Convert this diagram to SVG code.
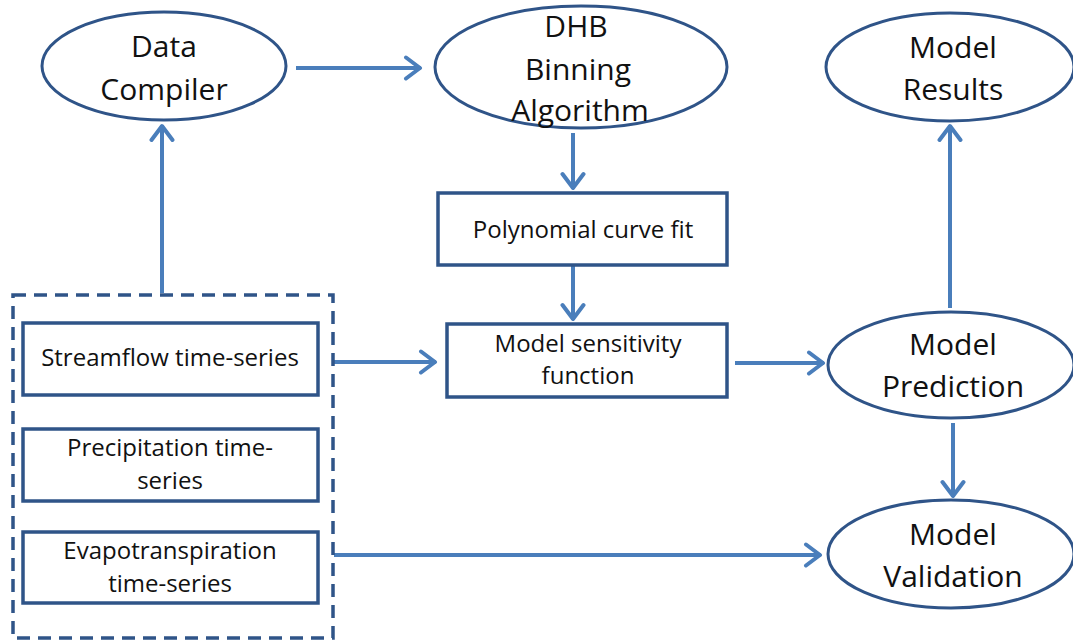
<svg xmlns="http://www.w3.org/2000/svg" width="1073" height="641" viewBox="0 0 1073 641">
<defs>
<style>
.ell{fill:#fff;stroke:#2f5488;stroke-width:3}
.box{fill:#fff;stroke:#2f5488;stroke-width:3.5}
.dash{fill:none;stroke:#2f5488;stroke-width:3.5;stroke-dasharray:13 8}
.con{fill:none;stroke:#4a7ebb;stroke-width:4;marker-end:url(#ah)}
.big{font-family:"Open Sans","Liberation Sans",sans-serif;font-size:30px;fill:#111;text-anchor:middle}
.sm{font-family:"Open Sans","Liberation Sans",sans-serif;font-size:24px;fill:#111;text-anchor:middle}
</style>
<marker id="ah" markerUnits="userSpaceOnUse" viewBox="0 0 20 26" refX="18" refY="13" markerWidth="20" markerHeight="26" orient="auto">
<path d="M3,2.5 L17,13 L3,23.5" fill="none" stroke="#4a7ebb" stroke-width="4" stroke-linecap="round" stroke-linejoin="round"/>
</marker>
</defs>
<rect width="1073" height="641" fill="#fff"/>
<g id="connectors">
<line class="con" x1="296" y1="68" x2="421" y2="68"/>
<line class="con" x1="162" y1="293" x2="162" y2="125"/>
<line class="con" x1="573" y1="133" x2="573" y2="189"/>
<line class="con" x1="573" y1="266" x2="573" y2="320"/>
<line class="con" x1="334" y1="362" x2="436" y2="362"/>
<line class="con" x1="735" y1="363" x2="824" y2="363"/>
<line class="con" x1="950" y1="308" x2="950" y2="125"/>
<line class="con" x1="953" y1="423" x2="953" y2="497"/>
<line class="con" x1="334" y1="555" x2="821" y2="555"/>
</g>
<g id="input-group">
<rect class="dash" x="13" y="295" width="320" height="343"/>
</g>
<g id="data-compiler">
<ellipse class="ell" cx="164" cy="66" rx="122" ry="54"/>
<text class="big" x="164" y="57">Data</text>
<text class="big" x="164" y="100">Compiler</text>
</g>
<g id="dhb">
<ellipse class="ell" cx="581" cy="67" rx="146" ry="61"/>
<text class="big" x="576" y="37">DHB</text>
<text class="big" x="578" y="80">Binning</text>
<text class="big" x="580" y="121">Algorithm</text>
</g>
<g id="model-results">
<ellipse class="ell" cx="950" cy="67" rx="124" ry="54"/>
<text class="big" x="953" y="58">Model</text>
<text class="big" x="953" y="100">Results</text>
</g>
<g id="polynomial">
<rect class="box" x="438" y="193" width="289" height="72"/>
<text class="sm" x="583" y="238">Polynomial curve fit</text>
</g>
<g id="sensitivity">
<rect class="box" x="447" y="324" width="280" height="73"/>
<text class="sm" x="588" y="352">Model sensitivity</text>
<text class="sm" x="588" y="384">function</text>
</g>
<g id="model-prediction">
<ellipse class="ell" cx="951" cy="365" rx="123" ry="53"/>
<text class="big" x="953" y="355">Model</text>
<text class="big" x="953" y="397">Prediction</text>
</g>
<g id="model-validation">
<ellipse class="ell" cx="951" cy="554" rx="123" ry="54"/>
<text class="big" x="953" y="545">Model</text>
<text class="big" x="953" y="587">Validation</text>
</g>
<g id="streamflow">
<rect class="box" x="23" y="323" width="295" height="72"/>
<text class="sm" x="170" y="366">Streamflow time-series</text>
</g>
<g id="precipitation">
<rect class="box" x="23" y="429" width="295" height="72"/>
<text class="sm" x="170" y="456">Precipitation time-</text>
<text class="sm" x="170" y="489">series</text>
</g>
<g id="evapotranspiration">
<rect class="box" x="23" y="532" width="295" height="71"/>
<text class="sm" x="170" y="559">Evapotranspiration</text>
<text class="sm" x="170" y="592">time-series</text>
</g>
</svg>
